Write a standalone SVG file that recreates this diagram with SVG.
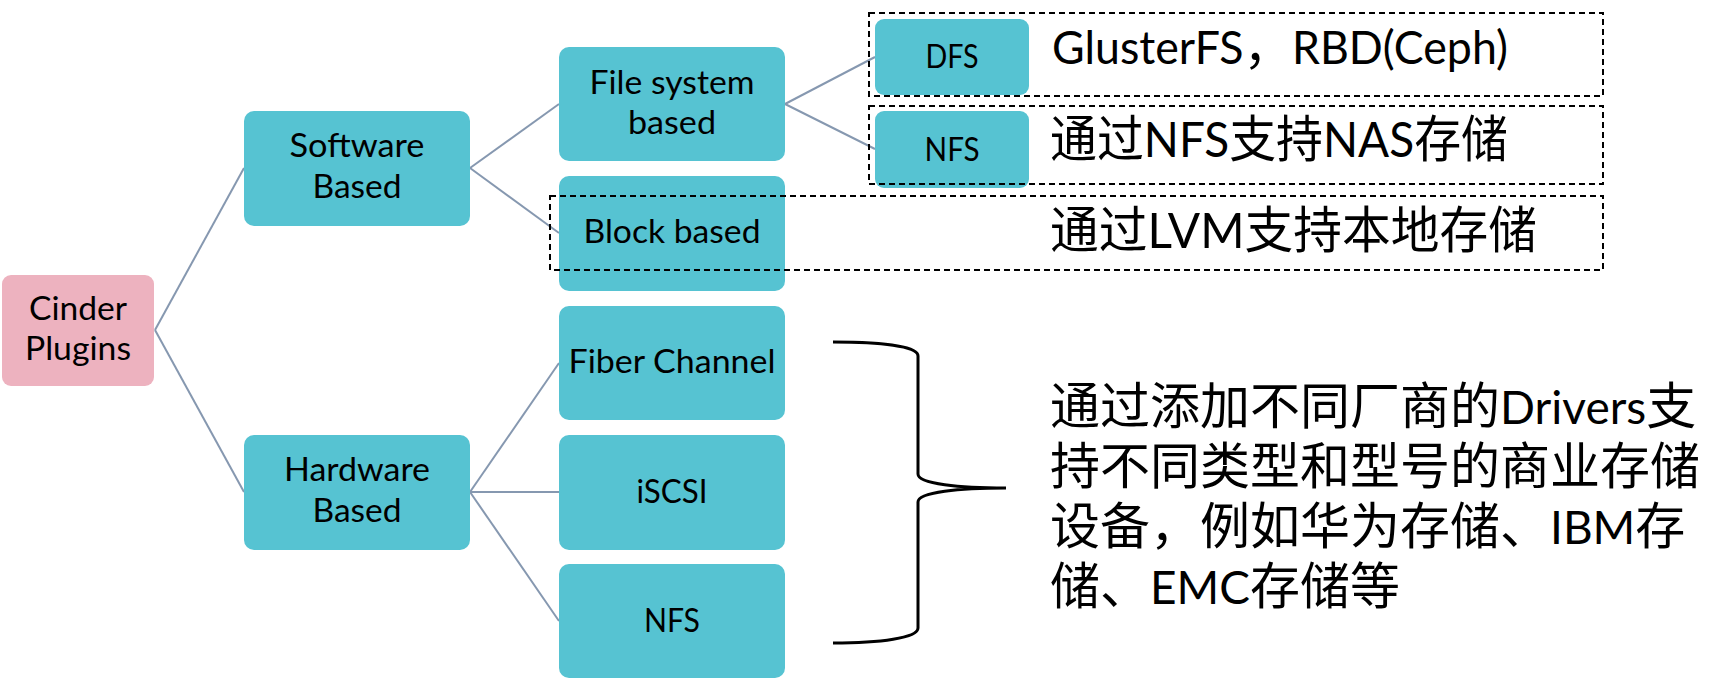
<svg xmlns="http://www.w3.org/2000/svg" width="1730" height="698" viewBox="0 0 1730 698">
<style>
.node rect{fill:#56C3D2;}
.root rect{fill:#EDB2BF;}
.lbl{font-family:Lato,"Noto Sans CJK SC",sans-serif;font-size:33px;fill:#000;text-anchor:middle;}
.sm{font-size:32px;}
.note{font-family:"Noto Sans CJK SC",sans-serif;font-size:50px;fill:#000;}
.lat{font-family:Lato,"Noto Sans CJK SC",sans-serif;font-size:46px;}
.lat2{font-family:Lato,"Noto Sans CJK SC",sans-serif;font-size:49px;}
.conn line{stroke:#8698B0;stroke-width:2;}
.dash{fill:none;stroke:#000;stroke-width:2;stroke-dasharray:6 4;}
</style>
<rect width="1730" height="698" fill="#fff"/>
<g id="connectors" class="conn">
<line x1="155" y1="330" x2="244" y2="168"/>
<line x1="155" y1="330" x2="244" y2="492"/>
<line x1="470" y1="168" x2="559" y2="104"/>
<line x1="470" y1="168" x2="559" y2="233"/>
<line x1="785" y1="104" x2="875" y2="57"/>
<line x1="785" y1="104" x2="875" y2="149"/>
<line x1="470" y1="492" x2="559" y2="363"/>
<line x1="470" y1="492" x2="559" y2="492"/>
<line x1="470" y1="492" x2="559" y2="621"/>
</g>
<g id="cinder" class="root"><rect x="2" y="275" width="152" height="111" rx="9"/><text class="lbl" x="78" y="320" textLength="98" lengthAdjust="spacingAndGlyphs">Cinder</text><text class="lbl" x="78" y="360" textLength="106" lengthAdjust="spacingAndGlyphs">Plugins</text></g>
<g id="software" class="node"><rect x="244" y="111" width="226" height="115" rx="10"/><text class="lbl" x="357" y="157" textLength="135" lengthAdjust="spacingAndGlyphs">Software</text><text class="lbl" x="357" y="198" textLength="89" lengthAdjust="spacingAndGlyphs">Based</text></g>
<g id="hardware" class="node"><rect x="244" y="435" width="226" height="115" rx="10"/><text class="lbl" x="357" y="481" textLength="146" lengthAdjust="spacingAndGlyphs">Hardware</text><text class="lbl" x="357" y="522" textLength="89" lengthAdjust="spacingAndGlyphs">Based</text></g>
<g id="filesystem" class="node"><rect x="559" y="47" width="226" height="114" rx="10"/><text class="lbl" x="672" y="94" textLength="165" lengthAdjust="spacingAndGlyphs">File system</text><text class="lbl" x="672" y="134" textLength="88" lengthAdjust="spacingAndGlyphs">based</text></g>
<g id="block" class="node"><rect x="559" y="176" width="226" height="115" rx="10"/><text class="lbl" x="672" y="243" textLength="177" lengthAdjust="spacingAndGlyphs">Block based</text></g>
<g id="fiber" class="node"><rect x="559" y="306" width="226" height="114" rx="10"/><text class="lbl" x="672" y="373" textLength="207" lengthAdjust="spacingAndGlyphs">Fiber Channel</text></g>
<g id="iscsi" class="node"><rect x="559" y="435" width="226" height="115" rx="10"/><text class="lbl" x="672" y="503" textLength="71" lengthAdjust="spacingAndGlyphs">iSCSI</text></g>
<g id="nfs-hw" class="node"><rect x="559" y="564" width="226" height="114" rx="10"/><text class="lbl" x="672" y="632" textLength="56" lengthAdjust="spacingAndGlyphs">NFS</text></g>
<g id="dfs" class="node"><rect x="875" y="19" width="154" height="76" rx="9"/><text class="lbl sm" x="952" y="68" textLength="53" lengthAdjust="spacingAndGlyphs">DFS</text></g>
<g id="nfs-sw" class="node"><rect x="875" y="111" width="154" height="77" rx="9"/><text class="lbl sm" x="952" y="161" textLength="55" lengthAdjust="spacingAndGlyphs">NFS</text></g>
<g id="notes">
<rect class="dash" x="869" y="13" width="734" height="83"/>
<rect class="dash" x="869" y="106" width="734" height="78"/>
<rect class="dash" x="550" y="196" width="1053" height="74"/>
<text class="note" x="1052" y="64" textLength="456" lengthAdjust="spacingAndGlyphs"><tspan class="lat">GlusterFS</tspan>，<tspan class="lat">RBD(Ceph)</tspan></text>
<text class="note" x="1050" y="157" textLength="458" lengthAdjust="spacingAndGlyphs">通过<tspan class="lat2">NFS</tspan>支持<tspan class="lat2">NAS</tspan>存储</text>
<text class="note" x="1050" y="248" textLength="487" lengthAdjust="spacingAndGlyphs">通过<tspan class="lat2">LVM</tspan>支持本地存储</text>
</g>
<g id="brace">
<path d="M833 342 C880 342 918 346 918 356 L918 474 C918 484 960 488 1006 488 C960 488 918 492 918 502 L918 628 C918 638 880 643 833 643" fill="none" stroke="#000" stroke-width="3"/>
<text class="note"><tspan x="1050" y="424">通过添加不同厂商的</tspan><tspan class="lat">Drivers</tspan><tspan>支</tspan><tspan x="1050" y="484">持不同类型和型号的商业存储</tspan><tspan x="1050" y="544">设备，例如华为存储、</tspan><tspan class="lat">IBM</tspan><tspan>存</tspan><tspan x="1050" y="604">储、</tspan><tspan class="lat">EMC</tspan><tspan>存储等</tspan></text>
</g>
</svg>
